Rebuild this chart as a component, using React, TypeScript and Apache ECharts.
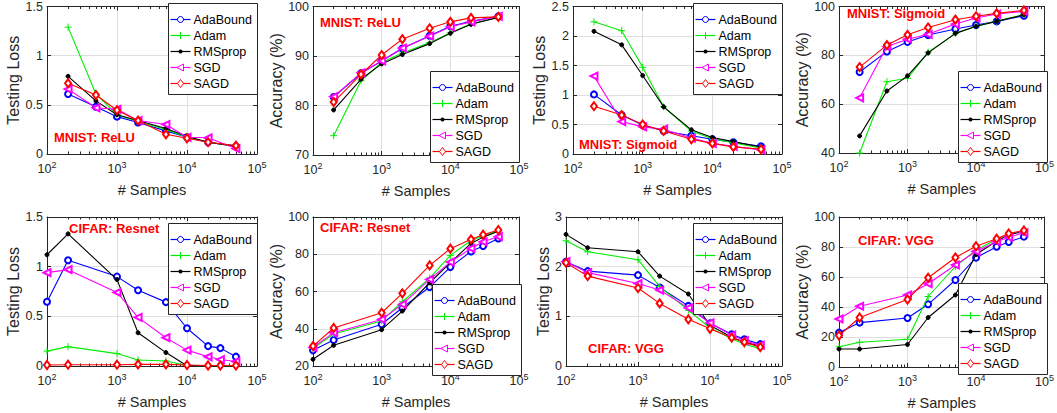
import React, { useEffect, useRef } from "react";
import * as echarts from "echarts";

// ---------- data ----------
const xMnist = [200, 500, 1000, 2000, 5000, 10000, 20000, 50000];
const xCifar = [100, 200, 1000, 2000, 5000, 10000, 20000, 30000, 50000];
const methods = ["AdaBound", "Adam", "RMSprop", "SGD", "SAGD"];

// MNIST ReLU - testing loss
const mnistReluLossAdaBound = [0.61, 0.48, 0.38, 0.32, 0.235, 0.17, 0.12, 0.077];
const mnistReluLossAdam = [1.29, 0.61, 0.4, 0.33, 0.25, 0.17, 0.12, 0.08];
const mnistReluLossRMSprop = [0.79, 0.54, 0.4, 0.34, 0.26, 0.18, 0.12, 0.08];
const mnistReluLossSGD = [0.66, 0.47, 0.455, 0.34, 0.3, 0.17, 0.165, 0.055];
const mnistReluLossSAGD = [0.72, 0.6, 0.445, 0.34, 0.2, 0.16, 0.12, 0.085];

// MNIST ReLU - accuracy
const mnistReluAccAdaBound = [81.7, 86.5, 89.0, 91.5, 94.1, 96.0, 97.0, 98.0];
const mnistReluAccAdam = [73.9, 85.0, 88.7, 90.6, 92.7, 94.7, 96.5, 97.8];
const mnistReluAccRMSprop = [79.1, 85.3, 88.4, 90.3, 92.5, 94.6, 96.4, 97.8];
const mnistReluAccSGD = [81.8, 86.6, 89.0, 91.6, 94.0, 95.9, 96.9, 98.0];
const mnistReluAccSAGD = [80.7, 86.3, 90.2, 93.4, 95.6, 96.9, 97.7, 97.9];

// MNIST Sigmoid - testing loss
const mnistSigLossAdaBound = [1.01, 0.66, 0.49, 0.39, 0.31, 0.25, 0.2, 0.13];
const mnistSigLossAdam = [2.24, 2.09, 1.47, 0.8, 0.39, 0.26, 0.19, 0.1];
const mnistSigLossRMSprop = [2.08, 1.85, 1.33, 0.8, 0.41, 0.28, 0.21, 0.12];
const mnistSigLossSGD = [1.32, 0.55, 0.46, 0.42, 0.27, 0.18, 0.13, 0.07];
const mnistSigLossSAGD = [0.81, 0.66, 0.5, 0.39, 0.25, 0.18, 0.12, 0.08];

// MNIST Sigmoid - accuracy
const mnistSigAccAdaBound = [73.2, 81.6, 85.5, 88.3, 90.8, 92.4, 93.9, 96.2];
const mnistSigAccAdam = [40, 69.2, 70.6, 81.3, 88.9, 91.9, 94.0, 96.7];
const mnistSigAccRMSprop = [47.0, 65.4, 71.6, 81.0, 89.0, 91.9, 93.9, 96.6];
const mnistSigAccSGD = [62.6, 83.6, 86.6, 88.6, 92.8, 95.3, 96.9, 98.0];
const mnistSigAccSAGD = [75.2, 84.2, 88.4, 91.4, 94.6, 96.0, 97.2, 98.4];

// CIFAR Resnet - testing loss
const cifarResLossAdaBound = [0.646, 1.065, 0.9, 0.763, 0.643, 0.38, 0.2, 0.18, 0.094];
const cifarResLossAdam = [0.15, 0.195, 0.125, 0.06, 0.05, 0.005, 0.003, 0.002, 0.002];
const cifarResLossRMSprop = [1.12, 1.33, 0.87, 0.335, 0.135, 0.002, 0.001, 0.001, 0.001];
const cifarResLossSGD = [0.94, 0.97, 0.74, 0.49, 0.285, 0.16, 0.093, 0.065, 0.045];
const cifarResLossSAGD = [0.01, 0.013, 0.013, 0.016, 0.016, 0.01, 0.005, 0.005, 0.005];

// CIFAR Resnet - accuracy
const cifarResAccAdaBound = [28.4, 34.0, 42.4, 51.3, 62.4, 73.1, 81.5, 84.4, 88.5];
const cifarResAccAdam = [29.5, 37.2, 44.2, 54.5, 67.2, 79.4, 87.4, 90.0, 92.6];
const cifarResAccRMSprop = [23.6, 31.1, 39.5, 49.5, 64.7, 75.5, 85.8, 89.2, 92.4];
const cifarResAccSGD = [30.0, 37.9, 45.0, 53.1, 66.5, 75.8, 83.1, 86.7, 89.4];
const cifarResAccSAGD = [30.7, 40.4, 48.6, 59.0, 74.0, 83.0, 88.0, 90.5, 93.0];

// CIFAR VGG - testing loss
const cifarVggLossAdaBound = [2.1, 1.91, 1.83, 1.58, 1.21, 0.86, 0.64, 0.54, 0.44];
const cifarVggLossAdam = [2.52, 2.3, 2.14, 1.6, 1.12, 0.77, 0.55, 0.44, 0.35];
const cifarVggLossRMSprop = [2.65, 2.38, 2.3, 1.81, 1.45, 0.82, 0.58, 0.48, 0.4];
const cifarVggLossSGD = [2.1, 1.88, 1.66, 1.53, 1.17, 0.87, 0.62, 0.51, 0.42];
const cifarVggLossSAGD = [2.08, 1.81, 1.57, 1.26, 0.94, 0.75, 0.57, 0.48, 0.38];

// CIFAR VGG - accuracy
const cifarVggAccAdaBound = [22.9, 29.6, 32.7, 41.8, 58.0, 72.9, 80.2, 83.3, 86.9];
const cifarVggAccAdam = [13.5, 16.5, 18.5, 47.0, 67.0, 78.0, 85.0, 88.5, 91.0];
const cifarVggAccRMSprop = [12.0, 12.0, 15.0, 33.0, 48.0, 75.0, 84.0, 88.0, 90.5];
const cifarVggAccSGD = [32.0, 40.5, 48.0, 55.5, 68.0, 77.0, 83.5, 86.5, 89.5];
const cifarVggAccSAGD = [21.0, 33.0, 45.0, 59.5, 73.0, 80.5, 85.5, 89.0, 91.0];

const titles = [
  "MNIST: ReLU", "MNIST: ReLU", "MNIST: Sigmoid", "MNIST: Sigmoid",
  "CIFAR: Resnet", "CIFAR: Resnet", "CIFAR: VGG", "CIFAR: VGG",
];
const yNames = [
  "Testing Loss", "Accuracy (%)", "Testing Loss", "Accuracy (%)",
  "Testing Loss", "Accuracy (%)", "Testing Loss", "Accuracy (%)",
];
const xName = "# Samples";

// ---------- layout / style ----------
const FONT = "'Liberation Sans', Arial, Helvetica, sans-serif";
const AX = "#262626";
const GRIDC = "#dfdfdf";
const ZL = 100;

const panels = [
  { x: xMnist, data: [mnistReluLossAdaBound, mnistReluLossAdam, mnistReluLossRMSprop, mnistReluLossSGD, mnistReluLossSAGD], yMin: 0, yMax: 1.5, yInt: 0.5, grid: [47, 6, 210, 148], legend: [168, 3], title: [54, 137], nameGap: 25 },
  { x: xMnist, data: [mnistReluAccAdaBound, mnistReluAccAdam, mnistReluAccRMSprop, mnistReluAccSGD, mnistReluAccSAGD], yMin: 70, yMax: 100, yInt: 10, grid: [313, 5, 206, 150], legend: [430, 71], title: [320, 22], nameGap: 27 },
  { x: xMnist, data: [mnistSigLossAdaBound, mnistSigLossAdam, mnistSigLossRMSprop, mnistSigLossSGD, mnistSigLossSAGD], yMin: 0, yMax: 2.5, yInt: 0.5, grid: [573, 6, 209, 148], legend: [693, 3], title: [579, 144], nameGap: 26 },
  { x: xMnist, data: [mnistSigAccAdaBound, mnistSigAccAdam, mnistSigAccRMSprop, mnistSigAccSGD, mnistSigAccSAGD], yMin: 40, yMax: 100, yInt: 20, grid: [839, 6, 206, 147], legend: [958, 71], title: [847, 13], nameGap: 27 },
  { x: xCifar, data: [cifarResLossAdaBound, cifarResLossAdam, cifarResLossRMSprop, cifarResLossSGD, cifarResLossSAGD], yMin: 0, yMax: 1.5, yInt: 0.5, grid: [47, 217, 210, 149], legend: [168, 223], title: [69, 228], nameGap: 25 },
  { x: xCifar, data: [cifarResAccAdaBound, cifarResAccAdam, cifarResAccRMSprop, cifarResAccSGD, cifarResAccSAGD], yMin: 20, yMax: 100, yInt: 20, grid: [313, 217, 206, 149], legend: [432, 284], title: [320, 227], nameGap: 27 },
  { x: xCifar, data: [cifarVggLossAdaBound, cifarVggLossAdam, cifarVggLossRMSprop, cifarVggLossSGD, cifarVggLossSAGD], yMin: 0, yMax: 3, yInt: 1, grid: [566, 217, 216, 149], legend: [693, 223], title: [588, 348], nameGap: 14 },
  { x: xCifar, data: [cifarVggAccAdaBound, cifarVggAccAdam, cifarVggAccRMSprop, cifarVggAccSGD, cifarVggAccSAGD], yMin: 0, yMax: 100, yInt: 20, grid: [839, 217, 206, 150], legend: [958, 283], title: [858, 240], nameGap: 27 },
];

const styles: any[] = [
  { color: "#0000ff", symbol: "emptyCircle", symbolSize: 6 },
  { color: "#00ee00", symbol: "path://M5,0L5,10M0,5L10,5", symbolSize: 7 },
  { color: "#000000", symbol: "circle", symbolSize: 4 },
  { color: "#ff00ff", symbol: "emptyTriangle", symbolSize: 7, symbolRotate: 90 },
  { color: "#ff0000", symbol: "emptyDiamond", symbolSize: [6, 8] },
];

// legend marker drawn in a legend row, centred at (cx, cy)
function legendMarker(k: number, cx: number, cy: number): any[] {
  const c = styles[k].color;
  if (k === 0) return [{ type: "circle", z: ZL + 2, shape: { cx, cy, r: 3 }, style: { fill: "#fff", stroke: c, lineWidth: 1 } }];
  if (k === 1) return [
    { type: "line", z: ZL + 2, shape: { x1: cx - 3.5, y1: cy, x2: cx + 3.5, y2: cy }, style: { stroke: c, lineWidth: 1 } },
    { type: "line", z: ZL + 2, shape: { x1: cx, y1: cy - 3.5, x2: cx, y2: cy + 3.5 }, style: { stroke: c, lineWidth: 1 } },
  ];
  if (k === 2) return [{ type: "circle", z: ZL + 2, shape: { cx, cy, r: 2 }, style: { fill: c } }];
  if (k === 3) return [{ type: "polygon", z: ZL + 2, shape: { points: [[cx - 3.5, cy], [cx + 3, cy - 3.5], [cx + 3, cy + 3.5]] }, style: { fill: "#fff", stroke: c, lineWidth: 1 } }];
  return [{ type: "polygon", z: ZL + 2, shape: { points: [[cx, cy - 4], [cx + 3, cy], [cx, cy + 4], [cx - 3, cy]] }, style: { fill: "#fff", stroke: c, lineWidth: 1 } }];
}

function buildLegend(left: number, top: number): any {
  const children: any[] = [
    { type: "rect", z: ZL, shape: { x: 0, y: 0, width: 89, height: 91 }, style: { fill: "#fff", stroke: AX, lineWidth: 1 } },
  ];
  methods.forEach((m, k) => {
    const cy = 16 + 16 * k;
    children.push({ type: "line", z: ZL + 1, shape: { x1: 2, y1: cy, x2: 22, y2: cy }, style: { stroke: styles[k].color, lineWidth: 1.2 } });
    legendMarker(k, 12, cy).forEach((e) => children.push(e));
    children.push({
      type: "text", z: ZL + 1, x: 25, y: cy,
      style: { text: m, fill: "#000", fontFamily: FONT, fontSize: 12.5, align: "left", verticalAlign: "middle" },
    });
  });
  return { type: "group", x: left + 0.5, y: top + 0.5, z: ZL, children };
}

function buildOption() {
  const grid: any[] = [];
  const xAxis: any[] = [];
  const yAxis: any[] = [];
  const series: any[] = [];
  const graphic: any[] = [];
  const lineStyle = { color: AX, width: 1 };

  panels.forEach((p, i) => {
    grid.push({ left: p.grid[0], top: p.grid[1], width: p.grid[2], height: p.grid[3], containLabel: false });
    const xCommon = {
      type: "log", logBase: 10, gridIndex: i, min: 100, max: 100000,
      axisLine: { show: true, onZero: false, lineStyle },
      axisTick: { show: true, inside: true, length: 4, lineStyle },
      minorTick: { show: true, splitNumber: 9, length: 2.5, lineStyle },
      minorSplitLine: { show: false },
    };
    xAxis.push({
      ...xCommon, position: "bottom",
      name: xName, nameLocation: "middle", nameGap: 28,
      nameTextStyle: { fontFamily: FONT, fontSize: 14.5, color: AX },
      splitLine: { show: true, lineStyle: { color: GRIDC, width: 1 } },
      axisLabel: {
        show: true, margin: 6, color: AX, fontFamily: FONT,
        formatter: (v: number) => `{b|10}{s|${Math.round(Math.log10(v))}}`,
        rich: {
          b: { fontFamily: FONT, fontSize: 12.5, color: AX },
          s: { fontFamily: FONT, fontSize: 9, color: AX, padding: [0, 0, 8, 0] },
        },
      },
    });
    xAxis.push({ ...xCommon, position: "top", axisLabel: { show: false }, splitLine: { show: false } });

    const yCommon = {
      type: "value", gridIndex: i, min: p.yMin, max: p.yMax, interval: p.yInt,
      axisLine: { show: true, onZero: false, lineStyle },
      axisTick: { show: true, inside: true, length: 4, lineStyle },
    };
    yAxis.push({
      ...yCommon, position: "left",
      name: yNames[i], nameLocation: "middle", nameGap: p.nameGap,
      nameTextStyle: { fontFamily: FONT, fontSize: 16, color: AX },
      splitLine: { show: true, lineStyle: { color: GRIDC, width: 1 } },
      axisLabel: { show: true, margin: 4, color: AX, fontFamily: FONT, fontSize: 12.5 },
    });
    yAxis.push({ ...yCommon, position: "right", axisLabel: { show: false }, splitLine: { show: false } });

    methods.forEach((m, k) => {
      const st = styles[k];
      series.push({
        type: "line", name: m,
        xAxisIndex: 2 * i, yAxisIndex: 2 * i,
        data: p.x.map((v, j) => [v, p.data[k][j]]),
        symbol: st.symbol, symbolSize: st.symbolSize, symbolRotate: st.symbolRotate || 0,
        showAllSymbol: true,
        lineStyle: { color: st.color, width: 1.1 },
        itemStyle: { color: st.color, borderColor: st.color, borderWidth: 1 },
        emphasis: { disabled: true },
        clip: true,
        z: 3 + k,
      });
    });

    graphic.push(buildLegend(p.legend[0], p.legend[1]));

    graphic.push({
      type: "text", x: p.title[0], y: p.title[1], z: ZL + 5,
      style: {
        text: titles[i], fill: "#ff0000", fontFamily: FONT, fontSize: 13, fontWeight: "bold",
        align: "left", verticalAlign: "middle",
      },
    });
  });

  return {
    animation: false,
    backgroundColor: "#ffffff",
    grid, xAxis, yAxis, series, graphic,
  };
}

export default function App() {
  const ref = useRef<HTMLDivElement>(null);
  useEffect(() => {
    if (!ref.current) return;
    const chart = echarts.init(ref.current, undefined, { renderer: "svg" });
    chart.setOption(buildOption() as any);
    return () => chart.dispose();
  }, []);
  return (
    <div
      ref={ref}
      style={{ position: "absolute", left: 0, top: 0, width: 1057, height: 413, background: "#fff" }}
    />
  );
}
